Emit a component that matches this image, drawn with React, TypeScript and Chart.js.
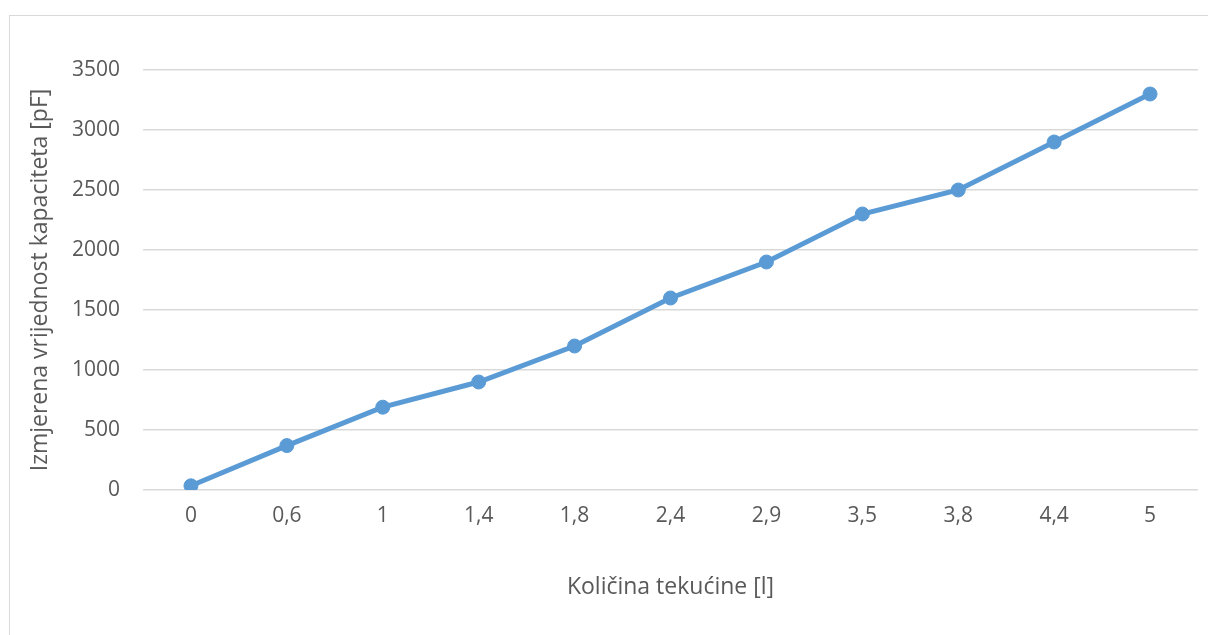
import React, { useEffect, useRef } from 'react';
import Chart from 'chart.js/auto';

const CATEGORIES = ['0', '0,6', '1', '1,4', '1,8', '2,4', '2,9', '3,5', '3,8', '4,4', '5'];
const CAPACITANCE = [35, 370, 690, 900, 1200, 1600, 1900, 2300, 2500, 2900, 3300];

const X_TITLE = 'Količina tekućine [l]';
const Y_TITLE = 'Izmjerena vrijednost kapaciteta [pF]';

const LINE_COLOR = '#5b9bd5';
const TEXT_COLOR = '#595959';
const GRID_COLOR = '#d9d9d9';
const FONT_FAMILY = "'Open Sans', 'Noto Sans', sans-serif";

const CapacitanceChart: React.FC = () => {
    const canvasRef = useRef<HTMLCanvasElement>(null);

    useEffect(() => {
        if (!canvasRef.current) return;
        const chart = new Chart(canvasRef.current, {
            type: 'line',
            data: {
                labels: CATEGORIES,
                datasets: [{
                    data: CAPACITANCE,
                    borderColor: LINE_COLOR,
                    backgroundColor: LINE_COLOR,
                    borderWidth: 5,
                    pointRadius: 7,
                    pointBorderWidth: 1,
                    pointBackgroundColor: LINE_COLOR,
                    pointBorderColor: LINE_COLOR,
                    tension: 0,
                    fill: false,
                }]
            },
            options: {
                animation: false,
                responsive: false,
                maintainAspectRatio: false,
                layout: { padding: { top: 70, right: 10, left: 0, bottom: 0 } },
                plugins: {
                    legend: { display: false },
                    tooltip: { enabled: false },
                },
                scales: {
                    x: {
                        offset: true,
                        grid: { display: false, drawTicks: false },
                        border: { display: false },
                        ticks: {
                            color: TEXT_COLOR,
                            padding: 13,
                            maxRotation: 0,
                            font: { family: FONT_FAMILY, size: 21 },
                        },
                        title: {
                            display: true,
                            text: X_TITLE,
                            color: TEXT_COLOR,
                            font: { family: FONT_FAMILY, size: 23 },
                            padding: { top: 0, bottom: 34 },
                        },
                        afterFit: (scale) => { scale.height = 145; },
                    },
                    y: {
                        min: 0,
                        max: 3500,
                        grid: { color: GRID_COLOR, lineWidth: 1.5, drawTicks: false },
                        border: { display: false },
                        ticks: {
                            stepSize: 500,
                            color: TEXT_COLOR,
                            padding: 23,
                            font: { family: FONT_FAMILY, size: 21 },
                            callback: (value) => String(value),
                        },
                        title: {
                            display: true,
                            text: Y_TITLE,
                            color: TEXT_COLOR,
                            font: { family: FONT_FAMILY, size: 23 },
                            padding: { top: 27, bottom: 0 },
                        },
                        afterFit: (scale) => { scale.width = 143; },
                    },
                },
            },
        });
        return () => chart.destroy();
    }, []);

    return <canvas ref={canvasRef} width={1208} height={635} style={{ position: 'absolute', left: 0, top: 0 }} />;
};

const App: React.FC = () => {
    useEffect(() => {
        document.body.style.margin = '0';
    }, []);

    return (
        <div style={{ position: 'relative', width: 1208, height: 635, overflow: 'hidden', background: '#fff' }}>
            <div style={{ position: 'absolute', left: 9, top: 15, width: 1400, height: 800, border: `1.5px solid ${GRID_COLOR}` }} />
            <CapacitanceChart />
        </div>
    );
};

export default App;
